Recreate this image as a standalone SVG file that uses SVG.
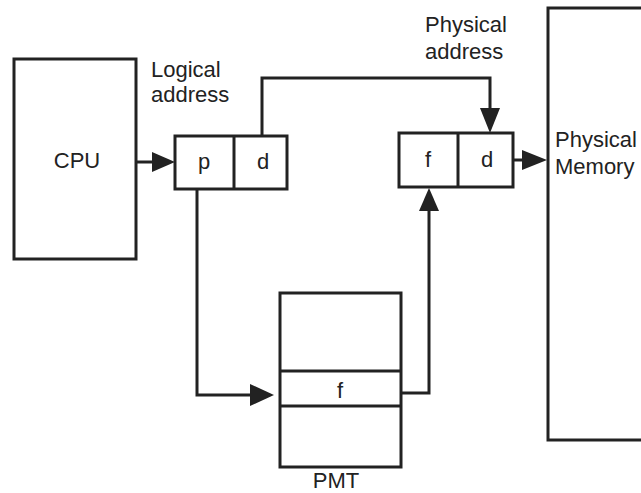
<svg xmlns="http://www.w3.org/2000/svg" width="641" height="493" viewBox="0 0 641 493">
<style>
.b{fill:#fff;stroke:#222;stroke-width:3}
.l{fill:none;stroke:#222;stroke-width:3}
.t{font-family:"Liberation Sans",Arial,sans-serif;font-size:22px;fill:#222}
.a{fill:#222}
</style>
<rect width="641" height="493" fill="#fff"/>
<g id="cpu">
<rect class="b" x="14" y="59" width="122" height="200"/>
<text class="t" x="77" y="168" text-anchor="middle">CPU</text>
</g>
<g id="logical">
<rect class="b" x="175" y="136" width="112" height="53"/>
<line class="l" x1="234" y1="136" x2="234" y2="189"/>
<text class="t" x="204" y="169" text-anchor="middle">p</text>
<text class="t" x="263" y="169" text-anchor="middle">d</text>
<text class="t" x="151" y="77">Logical</text>
<text class="t" x="151" y="102">address</text>
</g>
<g id="physical">
<rect class="b" x="399" y="133" width="114" height="54"/>
<line class="l" x1="458" y1="133" x2="458" y2="187"/>
<text class="t" x="428" y="167" text-anchor="middle">f</text>
<text class="t" x="487" y="167" text-anchor="middle">d</text>
<text class="t" x="425" y="32">Physical</text>
<text class="t" x="425" y="59">address</text>
</g>
<g id="memory">
<rect class="b" x="548" y="8" width="110" height="432"/>
<text class="t" x="555" y="147">Physical</text>
<text class="t" x="555" y="174">Memory</text>
</g>
<g id="pmt">
<rect class="b" x="280" y="293" width="121" height="174"/>
<line class="l" x1="280" y1="371" x2="401" y2="371"/>
<line class="l" x1="280" y1="406" x2="401" y2="406"/>
<text class="t" x="340" y="398" text-anchor="middle">f</text>
<text class="t" x="336" y="488" text-anchor="middle">PMT</text>
</g>
<g id="connectors">
<line class="l" x1="136" y1="162" x2="155" y2="162"/>
<polygon class="a" points="152,152 175,162 152,172"/>
<polyline class="l" points="262,136 262,78 490,78 490,110"/>
<polygon class="a" points="480,108 490,133 500,108"/>
<line class="l" x1="513" y1="160" x2="525" y2="160"/>
<polygon class="a" points="522,150 547,160 522,170"/>
<polyline class="l" points="401,393 429,393 429,208"/>
<polygon class="a" points="419,211 429,188 439,211"/>
<polyline class="l" points="197,189 197,395 253,395"/>
<polygon class="a" points="250,384 274,395 250,406"/>
</g>
</svg>
